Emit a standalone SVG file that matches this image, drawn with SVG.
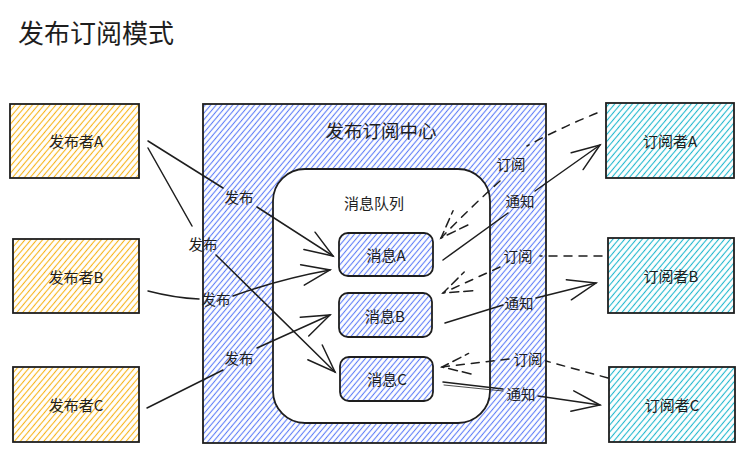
<svg xmlns="http://www.w3.org/2000/svg" width="744" height="452" viewBox="0 0 744 452">
<defs>
<style>
.t{font-family:"Noto Sans CJK SC","Noto Sans",sans-serif;fill:#1e1e1e;text-anchor:middle;dominant-baseline:central}
.lbl{font-size:14.5px}
.node{font-size:15px}
.box{stroke:#1e1e1e;stroke-width:1.8}
.c{fill:none;stroke:#1e1e1e;stroke-width:1.5;stroke-linecap:round}
.d{stroke-dasharray:8 7}
</style>
<pattern id="hO" width="4.5" height="4.5" patternUnits="userSpaceOnUse" patternTransform="rotate(40)"><rect width="4.5" height="4.5" fill="#fff"/><line x1="2.25" y1="0" x2="2.25" y2="4.5" stroke="#f7b51b" stroke-width="1.1"/></pattern>
<pattern id="hB" width="4.2" height="4.2" patternUnits="userSpaceOnUse" patternTransform="rotate(40)"><rect width="4.2" height="4.2" fill="#fff"/><line x1="2.1" y1="0" x2="2.1" y2="4.2" stroke="#5f7ef8" stroke-width="1.1"/></pattern>
<pattern id="hT" width="4.5" height="4.5" patternUnits="userSpaceOnUse" patternTransform="rotate(40)"><rect width="4.5" height="4.5" fill="#fff"/><line x1="2.25" y1="0" x2="2.25" y2="4.5" stroke="#22b8cf" stroke-width="1.1"/></pattern>
<marker id="arr" markerWidth="34" markerHeight="26" refX="31" refY="13" orient="auto" markerUnits="userSpaceOnUse"><path d="M3,2.7 L31,13 L3,23.3" fill="none" stroke="#1e1e1e" stroke-width="1.5" stroke-linecap="round"/></marker>
<marker id="arrd" markerWidth="34" markerHeight="26" refX="31" refY="13" orient="auto" markerUnits="userSpaceOnUse"><path d="M3,2.7 L31,13 L3,23.3" fill="none" stroke="#1e1e1e" stroke-width="1.5" stroke-dasharray="9 5" stroke-linecap="round"/></marker>
</defs>
<rect width="744" height="452" fill="#fff"/>
<text class="t" x="96" y="31" style="font-size:26px">发布订阅模式</text>

<g id="pubA"><rect class="box" x="10" y="104" width="129" height="74" fill="url(#hO)"/><text class="t node" x="76" y="140">发布者A</text></g>
<g id="pubB"><rect class="box" x="13" y="239" width="126" height="74" fill="url(#hO)"/><text class="t node" x="76" y="276">发布者B</text></g>
<g id="pubC"><rect class="box" x="13" y="367" width="126" height="75" fill="url(#hO)"/><text class="t node" x="76" y="404">发布者C</text></g>

<g id="center"><rect class="box" x="203" y="104" width="343" height="339" fill="url(#hB)"/><text class="t" x="381" y="130" style="font-size:18.5px">发布订阅中心</text></g>
<g id="queue"><rect class="box" x="273" y="169" width="217" height="254" rx="32" fill="#fff"/><text class="t node" x="374" y="202">消息队列</text></g>
<g id="msgA"><rect class="box" x="339" y="233" width="94" height="43" rx="9" fill="url(#hB)"/><text class="t node" x="386" y="254">消息A</text></g>
<g id="msgB"><rect class="box" x="339" y="293" width="93" height="44" rx="9" fill="url(#hB)"/><text class="t node" x="385" y="315">消息B</text></g>
<g id="msgC"><rect class="box" x="340" y="357" width="93" height="44" rx="9" fill="url(#hB)"/><text class="t node" x="387" y="378">消息C</text></g>

<g id="subA"><rect class="box" x="606" y="103" width="128" height="75" fill="url(#hT)"/><text class="t node" x="670" y="140">订阅者A</text></g>
<g id="subB"><rect class="box" x="608" y="238" width="126" height="75" fill="url(#hT)"/><text class="t node" x="671" y="275">订阅者B</text></g>
<g id="subC"><rect class="box" x="609" y="367" width="126" height="75" fill="url(#hT)"/><text class="t node" x="672" y="404">订阅者C</text></g>

<g id="connectors">
<path class="c" d="M148,141 L223,188"/>
<path class="c" d="M257,207 L333,256" marker-end="url(#arr)"/>
<text class="t lbl" x="239" y="196">发布</text>

<path class="c" d="M148,148 L192,226"/>
<path class="c" d="M216,255 L335,372" marker-end="url(#arr)"/>
<text class="t lbl" x="203" y="243">发布</text>

<path class="c" d="M148,291 Q175,298 199,299"/>
<path class="c" d="M233,296 Q280,279 330,270" marker-end="url(#arr)"/>
<text class="t lbl" x="216" y="298">发布</text>

<path class="c" d="M147,408 L223,370"/>
<path class="c" d="M257,348 L330,315" marker-end="url(#arr)"/>
<text class="t lbl" x="239" y="357">发布</text>

<path class="c d" d="M597,113 Q560,128 527,146"/>
<path class="c d" d="M500,181 Q470,208 441,238" marker-end="url(#arrd)"/>
<text class="t lbl" x="511" y="163">订阅</text>

<path class="c" d="M443,260 L508,213"/>
<path class="c" d="M535,191 L600,145" marker-end="url(#arr)"/>
<text class="t lbl" x="520" y="200">通知</text>

<path class="c d" d="M602,256 L540,256"/>
<path class="c d" d="M500,267 L443,293" marker-end="url(#arrd)"/>
<text class="t lbl" x="518" y="255">订阅</text>

<path class="c" d="M445,323 L503,305"/>
<path class="c" d="M536,298 L596,283" marker-end="url(#arr)"/>
<text class="t lbl" x="519" y="302">通知</text>

<path class="c d" d="M608,378 L546,361"/>
<path class="c d" d="M509,359 L442,367" marker-end="url(#arrd)"/>
<text class="t lbl" x="528" y="358">订阅</text>

<path class="c" d="M443,382 L503,389"/>
<path class="c" style="stroke-width:0.8" d="M444,385 L503,391"/>
<path class="c" d="M538,396 L600,405" marker-end="url(#arr)"/>
<text class="t lbl" x="521" y="393">通知</text>
</g>
</svg>
